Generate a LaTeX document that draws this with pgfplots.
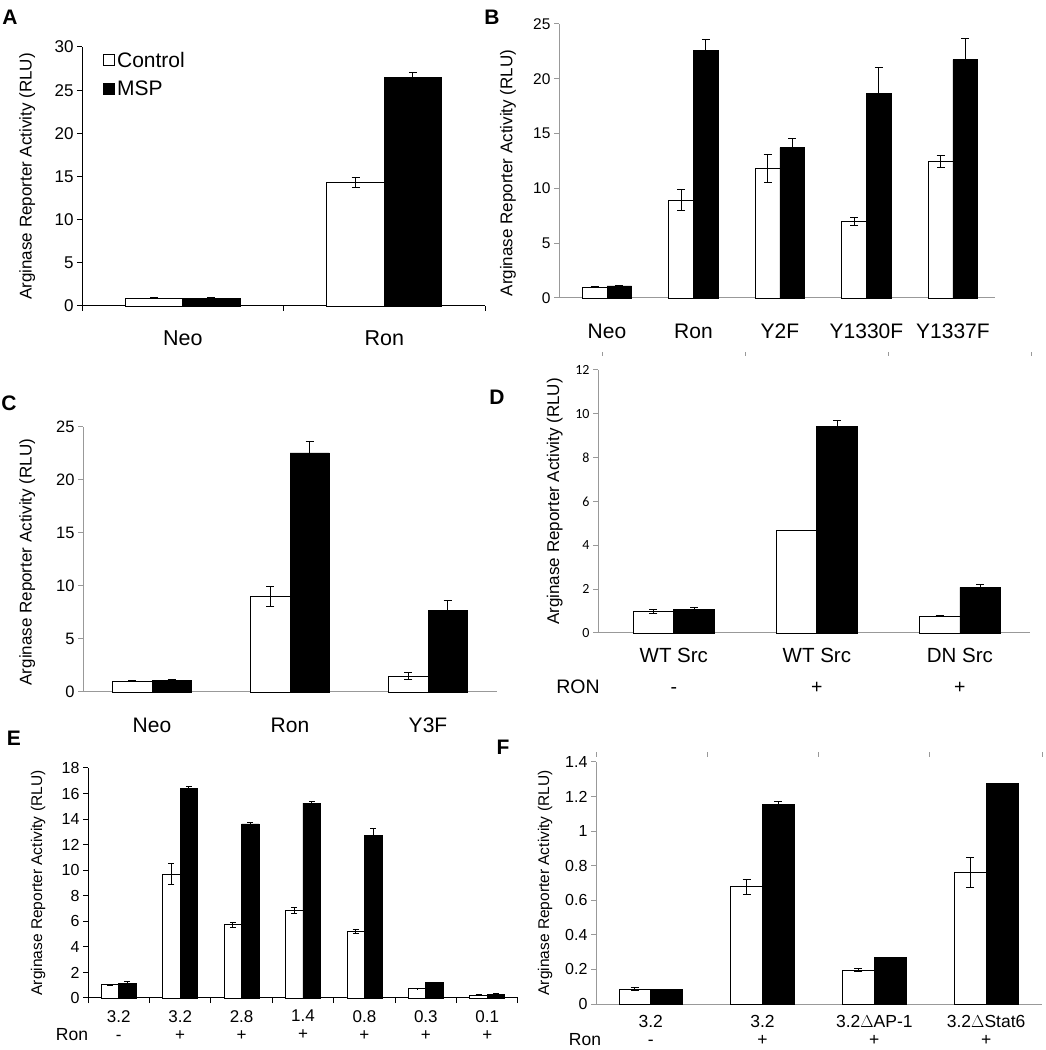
\documentclass[border=0pt]{standalone}
\usepackage{fontspec}
\setmainfont{Liberation Sans}
\newfontfamily\carlito{Carlito}
\usepackage{pgfplots}
\pgfplotsset{compat=1.18}
\newcommand\fs[2]{\fontsize{#1pt}{#2pt}\selectfont}

\pgfplotsset{
  panel/.style={
    scale only axis, anchor=south west, clip=false,
    axis lines*=left,
    ybar, bar width=0.285, ymin=0,
    xtick=\empty,
    tick align=outside, major tick length=5pt,
    tick style={gray!80, line width=1pt},
    axis line style={gray!80, line width=1pt},
    /pgf/number format/assume math mode=true,
    ylabel={Arginase Reporter Activity (RLU)},
    ylabel style={anchor=center},
    extra x tick style={tick style={draw=none}},
    xticklabel style={align=center, anchor=north, inner sep=0pt},
  },
  errs/.style={
    error bars/y dir=both, error bars/y explicit,
    error bars/error bar style={black, line width=1pt},
    error bars/error mark options={black, rotate=90, mark size=#1, line width=1pt},
  },
  ctrl/.style={fill=white, draw=black, line width=0.8pt, bar shift=-0.1425, errs=#1,
    legend image code/.code={\draw[fill=white, draw=black, line width=0.8pt] (0pt,-5.5pt) rectangle (11pt,5.5pt);}},
  ctrl/.default=4pt,
  msp/.style={fill=black, draw=black, line width=0.8pt, bar shift=0.1425, errs=#1,
    legend image code/.code={\draw[fill=black, draw=black, line width=0.8pt] (0pt,-5.5pt) rectangle (11pt,5.5pt);}},
  msp/.default=4pt,
}

\begin{document}
\begin{tikzpicture}
\useasboundingbox (0,0) rectangle (1046pt,1050pt);

% ---------- A ----------
\begin{axis}[panel, at={(82pt,744pt)}, width=403pt, height=259pt,
  xmin=-0.5, xmax=1.5, ymax=30, ytick={0,5,...,30},
  axis line style={black, line width=1pt}, tick style={black, line width=1pt},
  xtick={-0.5,0.5,1.5}, xticklabels={},
  extra x ticks={0,1}, extra x tick labels={Neo,Ron},
  yticklabel style={font=\fs{17}{20}},
  xticklabel style={font=\fs{21.5}{25}, yshift=-20pt},
  ylabel style={font=\fs{17}{20}, at={(rel axis cs:-0.136,0.5)}},
  legend style={draw=none, fill=none, at={(0.045,0.997)}, anchor=north west,
    font=\fs{21}{25}, row sep=8pt, legend cell align=left},
]
\addplot[ctrl] coordinates {(0,0.9) +- (0,0.03) (1,14.3) +- (0,0.55)};
\addplot[msp] coordinates {(0,0.9) +- (0,0.03) (1,26.5) +- (0,0.55)};
\legend{Control, MSP}
\end{axis}

% ---------- B ----------
\begin{axis}[panel, at={(559pt,752pt)}, width=436pt, height=274pt,
  xmin=-0.555, xmax=4.486, ymax=25, ytick={0,5,...,25},
  extra x ticks={0,1,2,3,4}, extra x tick labels={Neo,Ron,Y2F,Y1330F,Y1337F},
  yticklabel style={font=\fs{15.5}{18}},
  xticklabel style={font=\fs{21}{25}, yshift=-21pt},
  ylabel style={font=\fs{17}{20}, at={(rel axis cs:-0.117,0.456)}},
]
\addplot[ctrl] coordinates {(0,1.0) +- (0,0.05) (1,8.93) +- (0,0.95) (2,11.83) +- (0,1.3) (3,6.98) +- (0,0.35) (4,12.44) +- (0,0.55)};
\addplot[msp] coordinates {(0,1.1) +- (0,0.05) (1,22.6) +- (0,1.0) (2,13.72) +- (0,0.8) (3,18.63) +- (0,2.4) (4,21.74) +- (0,1.9)};
\end{axis}

% ---------- C ----------
\begin{axis}[panel, at={(83pt,358pt)}, width=414pt, height=265pt,
  xmin=-0.5, xmax=2.5, ymax=25, ytick={0,5,...,25},
  extra x ticks={0,1,2}, extra x tick labels={Neo,Ron,Y3F},
  yticklabel style={font=\fs{16.5}{19}},
  xticklabel style={font=\fs{21}{25}, yshift=-21pt},
  ylabel style={font=\fs{17}{20}, at={(rel axis cs:-0.135,0.49)}},
]
\addplot[ctrl] coordinates {(0,1.0) +- (0,0.05) (1,9.0) +- (0,0.93) (2,1.5) +- (0,0.35)};
\addplot[msp] coordinates {(0,1.13) +- (0,0.07) (1,22.55) +- (0,1.05) (2,7.67) +- (0,1.0)};
\end{axis}

% ---------- D ----------
\begin{axis}[panel, at={(598pt,417pt)}, width=432pt, height=263pt,
  xmin=-0.53, xmax=2.49, ymax=12, ytick={0,2,...,12},
  extra x ticks={0,1,2},
  extra x tick labels={{WT Src\\[6pt]\fs{19.5}{22}-},{WT Src\\[6pt]\fs{19.5}{22}+},{DN Src\\[6pt]\fs{19.5}{22}+}},
  yticklabel style={font=\carlito\fs{14}{17}},
  xticklabel style={font=\fs{20.5}{25}, yshift=-10pt},
  ylabel style={font=\fs{17}{20}, at={(rel axis cs:-0.1,0.5)}},
]
\addplot[ctrl] coordinates {(0,0.97) +- (0,0.08) (1,4.68) +- (0,0) (2,0.78) +- (0,0.03)};
\addplot[msp] coordinates {(0,1.09) +- (0,0.06) (1,9.41) +- (0,0.3) (2,2.08) +- (0,0.15)};
\pgfplotsinvokeforeach{-0.5,0.5,1.5,2.497}{
  \draw[gray!80, line width=1pt] (axis cs:#1,12.64) -- (axis cs:#1,12.82);}
\end{axis}
\node[font=\fs{19.5}{22}] at (578pt,363pt) {RON};

% ---------- E ----------
\begin{axis}[panel, at={(88pt,52pt)}, width=430pt, height=230pt,
  xmin=-0.5, xmax=6.5, ymax=18, ytick={0,2,...,18},
  axis line style={black, line width=1pt}, tick style={black, line width=1pt},
  xtick={-0.5,0.5,...,6.5}, xticklabels={},
  extra x ticks={0,...,6},
  extra x tick labels={3.2\\-,3.2\\+,2.8\\+,1.4\\+,0.8\\+,0.3\\+,0.1\\+},
  yticklabel style={font=\fs{16}{19}},
  xticklabel style={font=\fs{17}{18}, yshift=-7pt},
  ylabel style={font=\fs{15.5}{18}, at={(rel axis cs:-0.116,0.5)}},
]
\addplot[ctrl=3pt] coordinates {(0,1.04) +- (0,0.05) (1,9.7) +- (0,0.8) (2,5.74) +- (0,0.2) (3,6.84) +- (0,0.23) (4,5.22) +- (0,0.17) (5,0.73) +- (0,0.02) (6,0.23) +- (0,0.02)};
\addplot[msp=3pt] coordinates {(0,1.12) +- (0,0.15) (1,16.38) +- (0,0.15) (2,13.62) +- (0,0.12) (3,15.26) +- (0,0.15) (4,12.7) +- (0,0.6) (5,1.2) +- (0,0.05) (6,0.31) +- (0,0.02)};
\end{axis}
\node[font=\fs{17.5}{20}, inner sep=0pt] at (72pt,15pt) {Ron};

% ---------- F ----------
\begin{axis}[panel, at={(596pt,46pt)}, width=446pt, height=242pt,
  xmin=-0.49, xmax=3.5, ymax=1.4, ytick={0,0.2,...,1.4},
  extra x ticks={0,1,2,3},
  extra x tick labels={3.2\\-,3.2\\+,3.2$\Delta$AP-1\\+,3.2$\Delta$Stat6\\+},
  yticklabel style={font=\fs{16}{19}},
  xticklabel style={font=\fs{17.5}{18}, yshift=-6.5pt},
  ylabel style={font=\fs{15.5}{18}, at={(rel axis cs:-0.114,0.5)}},
]
\addplot[ctrl] coordinates {(0,0.0865) +- (0,0.01) (1,0.679) +- (0,0.043) (2,0.196) +- (0,0.008) (3,0.762) +- (0,0.088)};
\addplot[msp] coordinates {(0,0.083) +- (0,0) (1,1.152) +- (0,0.017) (2,0.271) +- (0,0) (3,1.277) +- (0,0)};
\pgfplotsinvokeforeach{-0.49,0.51,1.504,2.497,3.5}{
  \draw[gray!80, line width=1pt] (axis cs:#1,1.429) -- (axis cs:#1,1.458);}
\end{axis}
\node[font=\fs{17.5}{20}, inner sep=0pt] at (585pt,10pt) {Ron};

% ---------- panel letters ----------
\begin{scope}[font=\bfseries\fs{21}{25}]
\node at (10pt,1033pt) {A};
\node at (492pt,1033pt) {B};
\node at (9pt,647pt) {C};
\node at (497pt,653pt) {D};
\node at (14pt,312pt) {E};
\node at (503pt,303pt) {F};
\end{scope}
\end{tikzpicture}
\end{document}
